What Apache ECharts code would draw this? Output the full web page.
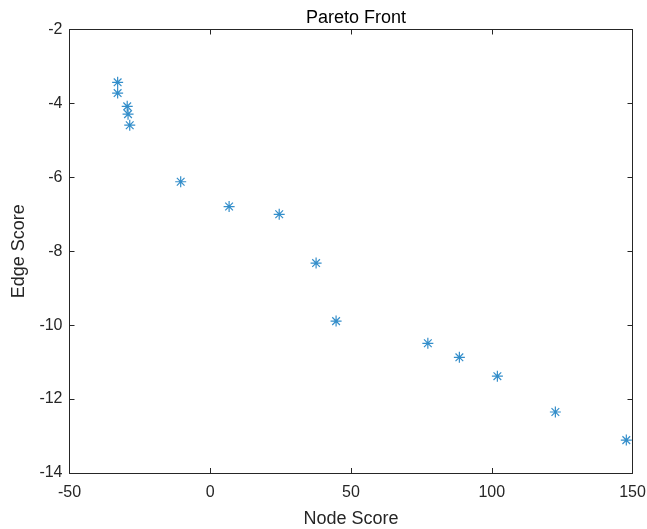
<!DOCTYPE html>
<html><head><meta charset="utf-8">
<script src="https://cdn.jsdelivr.net/npm/echarts@6/dist/echarts.min.js"></script>
<style>html,body{margin:0;padding:0;background:#fff}#c{width:647px;height:529px}</style>
</head><body><div id="c"></div>
<script>
const nodeScore = [-32.9, -32.9, -29.5, -29.2, -28.6, -10.5, 6.7, 24.5, 37.6, 44.7, 77.3, 88.5, 102.0, 122.6, 147.8];
const edgeScore = [-3.43, -3.72, -4.08, -4.29, -4.59, -6.12, -6.79, -7.0, -8.32, -9.89, -10.49, -10.87, -11.38, -12.35, -13.11];
const xTicks = [-50, 0, 50, 100, 150];
const yTicks = [-14, -12, -10, -8, -6, -4, -2];

const points = nodeScore.map((x, i) => [x, edgeScore[i]]);
const txt = '#262626';
const font = 'Liberation Sans, Arial, sans-serif';
const chart = echarts.init(document.getElementById('c'));
const star = 'path://M0,-1L0,1M-1,0L1,0M-0.7,-0.7L0.7,0.7M-0.7,0.7L0.7,-0.7';
const baseAxis = {
  axisLine: {show: true, onZero: false, lineStyle: {color: txt, width: 1}},
  axisTick: {show: true, inside: true, length: 5, lineStyle: {color: txt}},
  splitLine: {show: false}
};
chart.setOption({
  animation: false,
  title: {text: 'Pareto Front', left: 351, top: 4, textAlign: 'center',
    textStyle: {fontFamily: font, fontSize: 18, fontWeight: 'normal', color: '#000'}},
  grid: {left: 69.5, right: 14.5, top: 29.5, bottom: 56, containLabel: false, outerBoundsMode: 'none'},
  xAxis: [
    Object.assign({}, baseAxis, {type: 'value', min: xTicks[0], max: xTicks[xTicks.length-1], interval: 50,
      name: 'Node Score', nameLocation: 'middle', nameGap: 37,
      nameTextStyle: {fontFamily: font, fontSize: 18, color: txt},
      axisLabel: {fontFamily: font, fontSize: 16, color: txt, margin: 12}}),
    Object.assign({}, baseAxis, {type: 'value', position: 'top', min: -50, max: 150, interval: 50, axisLabel: {show: false}})
  ],
  yAxis: [
    Object.assign({}, baseAxis, {type: 'value', min: yTicks[0], max: yTicks[yTicks.length-1], interval: 2,
      name: 'Edge Score', nameLocation: 'middle', nameGap: 36,
      nameTextStyle: {fontFamily: font, fontSize: 18, color: txt},
      axisLabel: {fontFamily: font, fontSize: 16, color: txt, margin: 7}}),
    Object.assign({}, baseAxis, {type: 'value', position: 'right', min: -14, max: -2, interval: 2, axisLabel: {show: false}})
  ],
  series: [{
    type: 'scatter', xAxisIndex: 0, yAxisIndex: 0, data: points,
    symbol: star, symbolSize: 11,
    itemStyle: {color: 'rgba(0,0,0,0)', borderColor: '#0072BD', borderWidth: 1.2}
  }]
});
</script></body></html>
